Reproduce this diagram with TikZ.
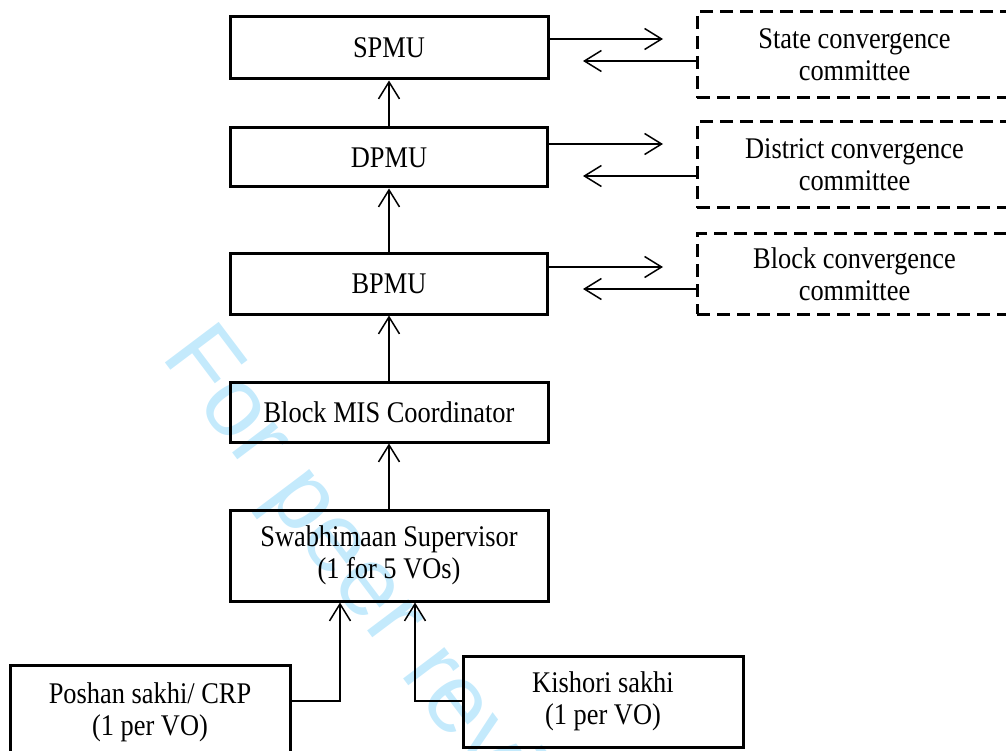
\documentclass[tikz,border=0pt]{standalone}
\usepackage{fontspec}
\setmainfont{Liberation Serif}[FakeStretch=0.88]
\newfontfamily\wmfont{Liberation Sans}
\usetikzlibrary{arrows.meta}
\definecolor{wmblue}{RGB}{196,234,252}
\tikzset{
  unit/.style={draw, line width=3pt, inner sep=0pt, align=center,
    font=\fontsize{30}{32}\selectfont},
  committee/.style={unit, dash pattern=on 13pt off 7pt},
  arr/.style={line width=1.5pt, -{Straight Barb[length=17pt,width=21pt,line width=1.5pt]}},
}
\begin{document}
\begin{tikzpicture}[x=1pt, y=-1pt]
  \useasboundingbox (0,0) rectangle (1006,751);
  \clip (0,0) rectangle (1006,751);

  % background stamp
  \node[rotate=-53, anchor=base west, inner sep=0pt, text=wmblue,
        font=\wmfont\fontsize{98}{98}\selectfont] (stamp) at (160,356) {For peer review};

  % hierarchy boxes
  \node[unit, minimum width=318pt, minimum height=62pt] (spmu) at (389,48) {SPMU};
  \node[unit, minimum width=317pt, minimum height=59pt] (dpmu) at (389,157.5) {DPMU};
  \node[unit, minimum width=317pt, minimum height=60pt] (bpmu) at (389,284) {BPMU};
  \node[unit, minimum width=318pt, minimum height=60pt] (mis) at (389,412) {Block MIS Coordinator};
  \node[unit, minimum width=318pt, minimum height=91pt] (swab) at (389,555.5) {Swabhimaan Supervisor\\(1 for 5 VOs)};
  \node[unit, minimum width=280pt, minimum height=94pt] (poshan) at (150,712) {Poshan sakhi/ CRP\\(1 per VO)};
  \node[unit, minimum width=280pt, minimum height=91pt] (kish) at (603,701.5) {Kishori sakhi\\(1 per VO)};

  % convergence committees
  \node[committee, minimum width=315pt, minimum height=86pt] (state) at (854.5,55) {State convergence\\committee};
  \node[committee, minimum width=315pt, minimum height=86pt] (district) at (854.5,165) {District convergence\\committee};
  \node[committee, minimum width=315pt, minimum height=80pt] (block) at (854.5,274) {Block convergence\\committee};

  % reporting lines
  \draw[arr] (dpmu) -- (spmu);
  \draw[arr] (bpmu) -- (dpmu);
  \draw[arr] (mis) -- (bpmu);
  \draw[arr] (swab) -- (mis);

  \coordinate (pj) at (340,701);
  \coordinate (kj) at (415,701);
  \draw[arr] (poshan.east |- pj) -| (swab.south -| pj);
  \draw[arr] (kish.west |- kj) -| (swab.south -| kj);

  % exchanges with committees
  \coordinate (sOut) at (663,39);   \coordinate (sIn) at (583,61);
  \coordinate (dOut) at (663,144);  \coordinate (dIn) at (583,176);
  \coordinate (bOut) at (663,267);  \coordinate (bIn) at (583,289);
  \draw[arr] (spmu.east |- sOut) -- (sOut);
  \draw[arr] (state.west |- sIn) -- (sIn);
  \draw[arr] (dpmu.east |- dOut) -- (dOut);
  \draw[arr] (district.west |- dIn) -- (dIn);
  \draw[arr] (bpmu.east |- bOut) -- (bOut);
  \draw[arr] (block.west |- bIn) -- (bIn);
\end{tikzpicture}
\end{document}
